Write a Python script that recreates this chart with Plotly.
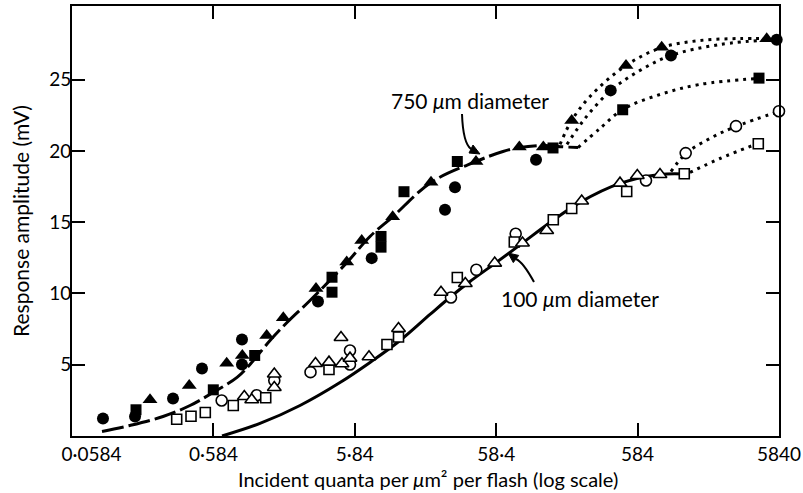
import plotly.graph_objects as go

# ---- 750 µm spot (filled symbols) ----
big_tri_x = [0.208, 0.394, 0.725, 0.935, 1.391, 1.823, 3.105, 5.118, 6.535, 10.82,
             20.2, 42.02, 85.1, 125.8, 199.7, 483.5, 864.6, 4780]
big_tri_y = [2.54, 3.54, 5.11, 5.65, 7.05, 8.29, 10.35, 12.21, 13.72, 15.38,
             17.81, 19.26, 20.27, 20.27, 22.14, 26.0, 27.28, 27.87]
big_circ_x = [0.0967, 0.163, 0.3025, 0.485, 0.930, 0.930, 3.207, 7.69, 25.37, 29.85,
              111.7, 376.9, 1006, 5625]
big_circ_y = [1.23, 1.37, 2.63, 4.74, 6.77, 5.02, 9.44, 12.48, 15.87, 17.46,
              19.38, 24.25, 26.70, 27.80]
big_sq_x = [0.1656, 0.583, 1.144, 4.029, 4.029, 8.95, 8.95, 13.01, 31.0, 147.3, 458.1, 4217]
big_sq_y = [1.84, 3.24, 5.65, 11.14, 10.09, 14.0, 13.25, 17.14, 19.26, 20.21, 22.89, 25.11]

# ---- 100 µm spot (open symbols) ----
small_tri_x = [0.966, 1.090, 1.574, 1.574, 3.08, 3.836, 4.665, 4.741, 5.40, 7.36,
               11.90, 23.77, 35.31, 57.0, 89.6, 132.9, 235, 438.5, 581.2, 841]
small_tri_y = [2.77, 2.54, 4.35, 3.40, 5.09, 5.18, 6.91, 5.07, 5.46, 5.56,
               7.54, 10.09, 10.70, 12.13, 13.54, 14.42, 16.49, 17.74, 18.28, 18.35]
small_circ_x = [0.668, 1.182, 1.574, 2.839, 5.40, 5.40, 27.97, 42.24, 80.2, 669.6,
                1278, 2899, 5840]
small_circ_y = [2.49, 2.86, 3.89, 4.48, 6.0, 5.02, 9.72, 11.66, 14.19, 17.93,
                19.85, 21.74, 22.79]
small_sq_x = [0.3212, 0.4055, 0.5118, 0.807, 1.369, 3.836, 9.86, 11.90, 31.0, 78.4,
              148.0, 199.7, 489, 1249, 4169]
small_sq_y = [1.18, 1.39, 1.65, 2.14, 2.68, 4.67, 6.42, 6.95, 11.12, 13.61,
              15.17, 15.96, 17.16, 18.40, 20.51]

# ---- fitted curves ----
big_fit_x = [0.0952, 0.1502, 0.257, 0.399, 0.580, 0.858, 1.060, 1.468, 1.936, 2.816,
             5.143, 7.48, 10.88, 20.2, 42.0, 65.2, 86.0, 129.3, 165.1, 221.3]
big_fit_y = [0.32, 0.74, 1.37, 2.14, 3.05, 4.11, 5.02, 6.70, 7.96, 9.51,
             12.18, 14.0, 15.40, 17.79, 19.26, 19.96, 20.24, 20.39, 20.30, 20.24]
tri_ext_x = [165.1, 199.7, 269.0, 483.5, 869, 1613, 3095, 4780]
tri_ext_y = [20.46, 22.14, 23.82, 26.0, 27.26, 27.75, 27.89, 27.89]
circ_ext_x = [184.9, 248.0, 378.7, 607.4, 1006, 2234, 5625]
circ_ext_y = [20.46, 22.28, 24.25, 25.65, 26.70, 27.47, 27.82]
sq_ext_x = [221.3, 316.6, 458, 841, 1613, 4217]
sq_ext_y = [20.24, 21.58, 22.91, 23.96, 24.67, 25.09]

small_fit_x = [0.672, 1.247, 2.392, 4.589, 7.48, 12.20, 19.87, 27.97, 38.11, 57.28,
               88.9, 140.3, 228.6, 438.5, 841, 1243]
small_fit_y = [0.0, 0.88, 2.14, 3.75, 5.16, 6.70, 8.53, 9.79, 10.84, 12.11,
               13.51, 14.98, 16.39, 17.72, 18.35, 18.39]
small_circ_ext_x = [1006, 1284, 1898, 2899, 5840]
small_circ_ext_y = [18.55, 19.82, 20.88, 21.72, 22.77]
small_sq_ext_x = [1371, 2234, 4149]
small_sq_ext_y = [18.49, 19.47, 20.53]

# ---- axes ----
x_tickvals = [0.0584, 0.584, 5.84, 58.4, 584, 5840]
x_ticktext = ["&nbsp;" * 8 + "0·0584", "0·584", "5·84", "58·4", "584", "5840"]
y_tickvals = [5, 10, 15, 20, 25]

FONT = "Lato"
INK = "#000000"
W, H = 803, 493
ML, MR, MT, MB = 72, 24, 6, 57
PW, PH = W - ML - MR, H - MT - MB


def paper(px, py):
    return (px - ML) / PW, (H - MB - py) / PH


fig = go.Figure()


def curve(xs, ys, dash, width=3):
    fig.add_trace(go.Scatter(x=xs, y=ys, mode="lines",
                             line=dict(color=INK, width=width, dash=dash, shape="spline"),
                             hoverinfo="skip", showlegend=False))


curve(big_fit_x, big_fit_y, "22px,5px")
curve(small_fit_x, small_fit_y, "solid")
for xs, ys in [(tri_ext_x, tri_ext_y), (circ_ext_x, circ_ext_y), (sq_ext_x, sq_ext_y),
               (small_circ_ext_x, small_circ_ext_y), (small_sq_ext_x, small_sq_ext_y)]:
    curve(xs, ys, "3px,5px")


def points(xs, ys, symbol, size, filled):
    if filled:
        marker = dict(symbol=symbol, size=size, color=INK, line=dict(width=0))
    else:
        marker = dict(symbol=symbol, size=size, color="white", line=dict(color=INK, width=1.6))
    fig.add_trace(go.Scatter(x=xs, y=ys, mode="markers", marker=marker,
                             cliponaxis=False, showlegend=False))


points(big_circ_x, big_circ_y, "circle", 12, True)
points(big_sq_x, big_sq_y, "square", 11, True)
points(big_tri_x, big_tri_y, "triangle-up", 13, True)
points(small_circ_x, small_circ_y, "circle", 11, False)
points(small_sq_x, small_sq_y, "square", 10, False)
points(small_tri_x, small_tri_y, "triangle-up", 12, False)

# curved pointer arrows for the two labels
shapes = []


def pointer(p0, c, p1, tip, c1, c2):
    a, b, d = paper(*p0), paper(*c), paper(*p1)
    shapes.append(dict(type="path", xref="paper", yref="paper",
                       path=f"M{a[0]},{a[1]} Q{b[0]},{b[1]} {d[0]},{d[1]}",
                       line=dict(color=INK, width=2)))
    t, e, f = paper(*tip), paper(*c1), paper(*c2)
    shapes.append(dict(type="path", xref="paper", yref="paper",
                       path=f"M{t[0]},{t[1]} L{e[0]},{e[1]} L{f[0]},{f[1]} Z",
                       fillcolor=INK, line=dict(color=INK, width=1)))


pointer((462, 114), (463, 143), (471, 149), (480, 154), (469, 153), (473, 145))
pointer((534, 282), (523, 262), (516, 259), (508, 253), (518.7, 255.4), (513.3, 262.6))


def label(text, px, py, size, angle=0):
    lx, ly = paper(px, py)
    return dict(text=text, x=lx, y=ly, xref="paper", yref="paper",
                xanchor="center", yanchor="middle", showarrow=False, textangle=angle,
                font=dict(size=size, color=INK, family=FONT))


ann = [
    label("750 <i>μ</i>m diameter", 470, 100, 21),
    label("100 <i>μ</i>m diameter", 580, 298, 21),
    label("Incident quanta per <i>μ</i>m² per flash (log scale)", 428, 479, 20),
    label("Response amplitude (mV)", 20, 221, 21, -90),
]

axis_common = dict(showline=True, linecolor=INK, linewidth=2, mirror="ticks",
                   ticks="inside", ticklen=13, tickwidth=2, tickcolor=INK,
                   showgrid=False, zeroline=False,
                   tickfont=dict(size=19, color=INK, family=FONT))

fig.update_layout(
    width=W, height=H,
    margin=dict(l=ML, r=MR, t=MT, b=MB, autoexpand=False),
    paper_bgcolor="white", plot_bgcolor="white",
    showlegend=False,
    xaxis=dict(type="log", range=[-1.23365, 3.76645],
               tickvals=x_tickvals, ticktext=x_ticktext, ticklabelstandoff=0,
               **axis_common),
    yaxis=dict(range=[0, 30.17], tickvals=y_tickvals, ticklabelstandoff=-5,
               **axis_common),
    shapes=shapes, annotations=ann,
)

fig.write_html("out.html")
